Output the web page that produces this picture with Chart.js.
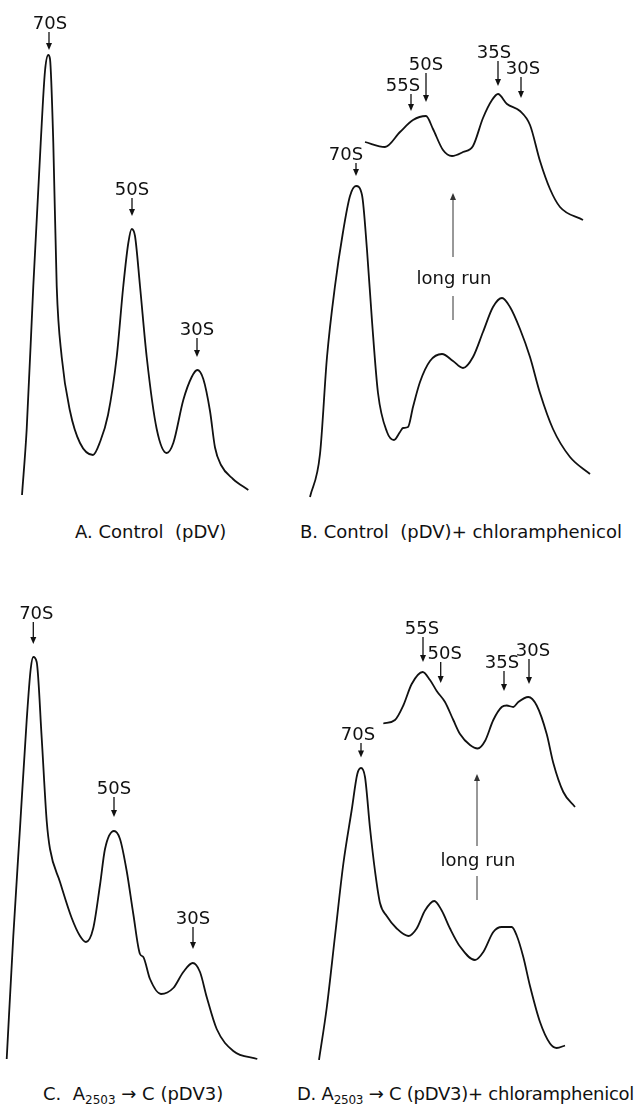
<!DOCTYPE html>
<html>
<head>
<meta charset="utf-8">
<script src="https://cdn.jsdelivr.net/npm/chart.js@4/dist/chart.umd.min.js"></script>
<style>
  body { margin: 0; background: #fff; width: 640px; height: 1104px; position: relative; overflow: hidden;
         font-family: "DejaVu Sans", sans-serif; color: #111; }
  canvas { position: absolute; }
  .cap { position: absolute; font-size: 18px; line-height: 18px; white-space: pre; }
  .cap sub { font-size: 12px; line-height: 0; vertical-align: -4px; }
</style>
</head>
<body>
<canvas id="panelA" width="300" height="500" style="left:0;top:0"></canvas>
<canvas id="panelB" width="340" height="500" style="left:300px;top:0"></canvas>
<canvas id="panelC" width="300" height="500" style="left:0;top:560px"></canvas>
<canvas id="panelD" width="340" height="500" style="left:300px;top:560px"></canvas>

<div class="cap" style="left:75px;top:523px">A. Control  (pDV)</div>
<div class="cap" style="left:300px;top:523px">B. Control  (pDV)+ chloramphenicol</div>
<div class="cap" style="left:43px;top:1085px">C.  A<sub>2503</sub> → C (pDV3)</div>
<div class="cap" style="left:297px;top:1085px;letter-spacing:-0.25px">D. A<sub>2503</sub> → C (pDV3)+ chloramphenicol</div>

<script>
// Profils de sédimentation : position dans le gradient (x) et absorbance relative (y)

// A. Control (pDV)
const fracA = [2.2, 2.67, 3.33, 4.07, 4.5, 4.83, 5.0, 5.33, 5.67, 6.17, 7.0, 8.0, 9.3, 10.0, 10.8, 11.67,
  12.33, 12.83, 13.17, 13.5, 14.0, 14.67, 15.67, 16.67, 17.33, 18.33, 19.17, 19.73, 20.33, 21.0, 21.5,
  22.1, 23.3, 24.83];
const absA = [1.0, 14.2, 42.8, 71.4, 85.8, 89.0, 88.2, 71.4, 42.8, 28.6, 17.8, 11.4, 9.0, 11.6, 17.0, 28.6,
  42.8, 51.4, 54.2, 52.8, 42.8, 28.6, 14.2, 9.4, 11.4, 20.0, 24.6, 26.0, 24.2, 17.8, 10.5,
  7.0, 4.2, 2.0];

// B. Control (pDV) + chloramphenicol
const fracB = [-1.0, 0, 0.7, 1.5, 2.3, 3.0, 3.6, 4.2, 4.7, 5.2, 5.8, 6.7, 7.4, 8.0, 8.3, 8.8, 9.3, 10.0,
  11.0, 12.2, 13.3, 14.3, 15.3, 16.3, 17.3, 18.2, 19.0, 20.0, 21.0, 22.0, 23.3, 25.0, 27.0];
const absB = [0.6, 9.2, 28.6, 42.8, 53.6, 60.8, 62.8, 61.0, 50.0, 35.8, 21.4, 13.6, 12.0, 13.6, 14.4, 14.6, 18.6, 23.6,
  27.8, 29.2, 27.8, 26.4, 28.6, 33.6, 38.6, 40.4, 38.6, 34.2, 28.6, 21.4, 14.2, 8.6, 5.2];
// B, long run
const fracBLong = [4.5, 6.5, 8.0, 9.3, 10.6, 11.3, 12.3, 13.2, 14.3, 15.3, 16.3, 17.2, 17.8, 18.7, 20.0,
  21.0, 22.0, 23.0, 24.0, 26.3];
const absBLong = [71.6, 70.6, 73.6, 76.0, 76.8, 74.2, 70.0, 68.8, 69.6, 70.8, 76.4, 80.0, 81.2, 79.2, 77.8,
  75.0, 67.8, 62.2, 58.6, 56.0];

// C. A2503 -> C (pDV3)
const fracC = [0.67, 1.33, 2.0, 2.67, 3.07, 3.33, 3.67, 4.17, 4.67, 5.0, 6.0, 7.17, 8.0, 8.6, 9.33, 10.0,
  10.5, 11.4, 12.0, 12.67, 13.33, 14.0, 14.33, 15.0, 16.1, 17.33, 18.33, 19.27, 20.0, 20.67, 21.67,
  23.33, 25.73];
const absC = [0.2, 24.8, 46.4, 68.0, 78.2, 80.6, 79.6, 64.4, 47.8, 42.2, 35.6, 28.4, 24.8, 23.6, 26.4, 35.0,
  42.2, 45.8, 44.2, 37.8, 29.2, 21.2, 20.6, 16.2, 13.2, 14.4, 17.6, 19.4, 17.6, 12.6, 6.2,
  1.8, 0.2];

// D. A2503 -> C (pDV3) + chloramphenicol
const fracD = [-0.1, 0.67, 1.5, 2.33, 3.17, 3.73, 4.1, 4.5, 5.0, 5.5, 6.0, 6.67, 7.67, 8.83, 9.67, 10.5,
  11.43, 12.17, 13.0, 14.0, 15.5, 16.33, 17.33, 18.17, 19.17, 19.67, 20.33, 21.0, 22.0, 23.0, 23.67, 24.5];
const absD = [0.0, 10.4, 24.8, 39.2, 50.0, 57.2, 58.4, 56.6, 46.4, 37.8, 31.4, 28.8, 26.3, 24.8, 26.3, 29.9,
  31.8, 29.9, 26.3, 22.7, 20.0, 21.6, 25.6, 26.6, 26.6, 24.9, 20.6, 14.8, 7.6, 3.3, 2.4, 2.9];
// D, long run
const fracDLong = [6.33, 7.5, 8.33, 9.17, 10.27, 11.0, 11.67, 12.5, 13.33, 14.0, 15.0, 15.77, 16.5, 17.33,
  18.17, 18.67, 19.33, 19.83, 20.83, 21.67, 22.67, 23.33, 24.33, 25.5];
const absDLong = [67.3, 68.0, 70.9, 75.2, 77.6, 76.0, 73.8, 71.6, 68.0, 65.2, 63.0, 62.3, 63.8, 68.0,
  70.6, 70.9, 70.6, 71.6, 72.6, 70.9, 65.2, 59.4, 53.6, 50.6];

// Marqueurs des pics (nom, position dans le gradient)
const peaksA = ['70S', '50S', '30S'];
const peakFracA = [4.9, 13.2, 19.7];
const peaksB = ['70S', '55S', '50S', '35S', '30S'];
const peakFracB = [3.6, 9.1, 10.6, 17.8, 20.1];
const peaksC = ['70S', '50S', '30S'];
const peakFracC = [3.33, 11.4, 19.3];
const peaksD = ['70S', '55S', '50S', '35S', '30S'];
const peakFracD = [4.1, 10.3, 12.07, 18.4, 20.9];

// Mise en page des flèches : [queue, pointe, décalage du texte]
const arrowsA = [[93.6, 90.0, 0.1], [60.4, 56.8, 0], [32.4, 28.6, 0]];
const arrowsB = [[67.4, 64.8, -1.0], [81.2, 77.8, -0.8], [85.4, 79.6, 0], [87.8, 82.8, -0.4], [84.6, 80.4, 0.2]];
const arrowsC = [[87.6, 83.2, 0.3], [52.6, 48.6, 0], [26.6, 22.2, 0]];
const arrowsD = [[63.4, 60.5, -0.3], [84.6, 79.6, -0.1], [79.6, 75.4, 0.4], [77.8, 73.8, -0.2], [80.2, 75.2, 0.4]];

function arrow(ctx, x, y0, y1, w) {
  const dir = Math.sign(y1 - y0);
  ctx.lineWidth = w;
  ctx.beginPath();
  ctx.moveTo(x, y0);
  ctx.lineTo(x, y1 - dir * 4);
  ctx.stroke();
  ctx.beginPath();
  ctx.moveTo(x, y1);
  ctx.lineTo(x - 3, y1 - dir * 7);
  ctx.lineTo(x + 3, y1 - dir * 7);
  ctx.closePath();
  ctx.fill();
}

// Plugin pour les étiquettes et flèches
const annotate = {
  id: 'annotate',
  afterDatasetsDraw(chart, args, opts) {
    const { ctx } = chart;
    const x = chart.scales.x, y = chart.scales.y;
    ctx.save();
    ctx.strokeStyle = '#111';
    ctx.fillStyle = '#111';
    ctx.font = '18px "DejaVu Sans"';
    ctx.textAlign = 'center';
    ctx.textBaseline = 'alphabetic';
    opts.names.forEach((name, i) => {
      const [tail, tip, dx] = opts.arrows[i];
      const px = x.getPixelForValue(opts.fracs[i]);
      const pt = y.getPixelForValue(tail);
      ctx.fillText(name, x.getPixelForValue(opts.fracs[i] + dx), pt - 3);
      arrow(ctx, px, pt, y.getPixelForValue(tip), 1.3);
    });
    if (opts.longRun) {
      const lr = opts.longRun;
      const px = x.getPixelForValue(lr.x);
      ctx.strokeStyle = '#333';
      ctx.fillStyle = '#333';
      arrow(ctx, px, y.getPixelForValue(lr.shaft), y.getPixelForValue(lr.head), 1);
      ctx.fillStyle = '#111';
      ctx.textBaseline = 'middle';
      ctx.fillText('long run', px + 1, y.getPixelForValue(lr.text));
      ctx.lineWidth = 1;
      ctx.beginPath();
      ctx.moveTo(px, y.getPixelForValue(lr.lineTop));
      ctx.lineTo(px, y.getPixelForValue(lr.lineBottom));
      ctx.stroke();
    }
    ctx.restore();
  }
};

function panel(id, xMin, xMax, curves, notes) {
  new Chart(document.getElementById(id), {
    type: 'line',
    data: {
      datasets: curves.map(c => ({
        data: c[0].map((f, i) => ({ x: f, y: c[1][i] })),
        borderColor: '#111',
        borderWidth: 1.8,
        pointRadius: 0,
        cubicInterpolationMode: 'monotone',
        fill: false,
        clip: false
      }))
    },
    options: {
      responsive: false,
      animation: false,
      events: [],
      layout: { padding: 0 },
      scales: {
        x: { type: 'linear', min: xMin, max: xMax, display: false },
        y: { min: 0, max: 100, display: false }
      },
      plugins: { legend: { display: false }, tooltip: { enabled: false }, annotate: notes }
    },
    plugins: [annotate]
  });
}

panel('panelA', 0, 30, [[fracA, absA]], { names: peaksA, fracs: peakFracA, arrows: arrowsA });
panel('panelB', -2, 32, [[fracB, absB], [fracBLong, absBLong]], {
  names: peaksB, fracs: peakFracB, arrows: arrowsB,
  longRun: { x: 13.3, head: 61.4, shaft: 48.6, text: 44.2, lineTop: 40.8, lineBottom: 36.0 }
});
panel('panelC', 0, 30, [[fracC, absC]], { names: peaksC, fracs: peakFracC, arrows: arrowsC });
panel('panelD', -2, 32, [[fracD, absD], [fracDLong, absDLong]], {
  names: peaksD, fracs: peakFracD, arrows: arrowsD,
  longRun: { x: 15.7, head: 57.2, shaft: 42.8, text: 39.8, lineTop: 36.8, lineBottom: 32.0 }
});
</script>
</body>
</html>
